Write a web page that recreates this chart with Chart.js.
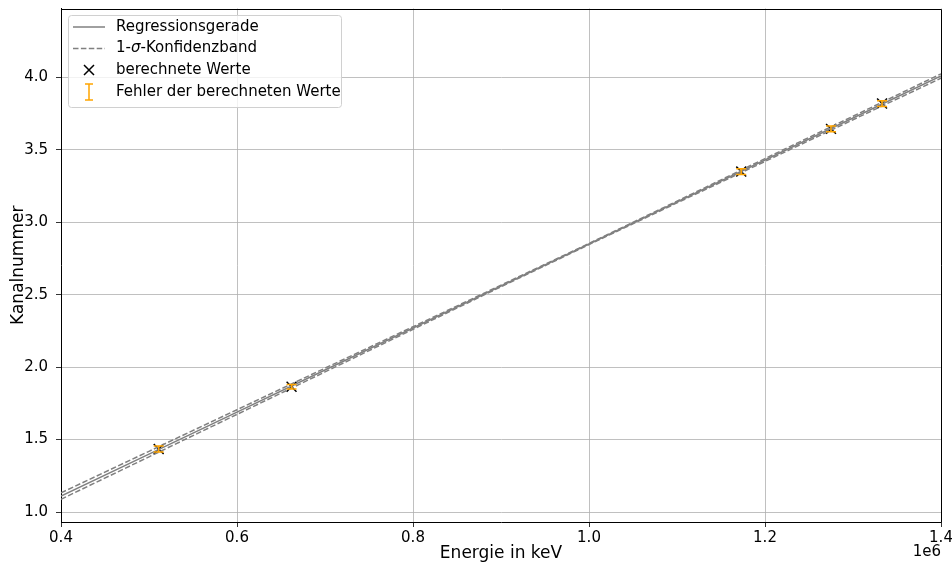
<!DOCTYPE html>
<html>
<head>
<meta charset="utf-8">
<script src="https://cdn.jsdelivr.net/npm/chart.js@4/dist/chart.umd.min.js"></script>
<style>
  html, body { margin: 0; padding: 0; background: #fff; }
  #wrap { width: 952px; height: 564px; }
</style>
</head>
<body>
<div id="wrap"><canvas id="chart" width="952" height="564"></canvas></div>
<script>
// measured points (energy, channel) and their errors
const energies = [0.511e6, 0.662e6, 1.173e6, 1.275e6, 1.333e6];
const channels = [1.435, 1.865, 3.350, 3.645, 3.820];
const channelErr = [0.02, 0.015, 0.02, 0.02, 0.02];

// regression line and 1-sigma band
const fitX = [0.4e6, 0.5e6, 0.6e6, 0.7e6, 0.8e6, 0.9e6, 1.0e6, 1.1e6, 1.2e6, 1.3e6, 1.4e6];
const fitY = [1.110, 1.400, 1.690, 1.980, 2.270, 2.560, 2.850, 3.140, 3.430, 3.720, 4.010];
const bandUpper = [1.132, 1.419, 1.706, 1.993, 2.279, 2.566, 2.854, 3.146, 3.440, 3.732, 4.025];
const bandLower = [1.088, 1.381, 1.674, 1.967, 2.261, 2.555, 2.846, 3.134, 3.420, 3.708, 3.995];

const xTicks = [0.4e6, 0.6e6, 0.8e6, 1.0e6, 1.2e6, 1.4e6];
const yTicks = [1.0, 1.5, 2.0, 2.5, 3.0, 3.5, 4.0];

const FONT = 'DejaVu Sans';
const ORANGE = '#ffa500';
const pts = (xs, ys) => xs.map((x, i) => ({ x: x, y: ys[i] }));

const errorBars = {
    id: 'errorBars',
    afterDatasetsDraw(chart) {
        const { ctx, scales: { x, y } } = chart;
        ctx.save();
        ctx.strokeStyle = ORANGE;
        ctx.lineWidth = 1.5;
        energies.forEach((e, i) => {
            const px = x.getPixelForValue(e);
            const top = y.getPixelForValue(channels[i] + channelErr[i]);
            const bot = y.getPixelForValue(channels[i] - channelErr[i]);
            ctx.beginPath();
            ctx.moveTo(px, top); ctx.lineTo(px, bot);
            ctx.moveTo(px - 5, top); ctx.lineTo(px + 5, top);
            ctx.moveTo(px - 5, bot); ctx.lineTo(px + 5, bot);
            ctx.stroke();
        });
        ctx.restore();
    }
};

const mplLegend = {
    id: 'mplLegend',
    afterDraw(chart) {
        const ctx = chart.ctx;
        const area = chart.chartArea;
        ctx.save();
        // top and right spines
        ctx.strokeStyle = '#000';
        ctx.lineWidth = 1;
        ctx.beginPath();
        ctx.moveTo(area.left, Math.round(area.top) + 0.5);
        ctx.lineTo(Math.round(area.right) + 0.5, Math.round(area.top) + 0.5);
        ctx.lineTo(Math.round(area.right) + 0.5, area.bottom);
        ctx.stroke();

        const bx = 68, by = 15, bw = 273, bh = 92;
        ctx.fillStyle = 'rgba(255,255,255,0.8)';
        ctx.strokeStyle = '#d0d0d0';
        ctx.beginPath();
        ctx.roundRect(bx + 0.5, by + 0.5, bw, bh, 3);
        ctx.fill();
        ctx.stroke();

        const rows = [27, 48.5, 70, 92];
        const normal = '15px "' + FONT + '"';
        ctx.font = normal;
        ctx.fillStyle = '#000';
        ctx.textBaseline = 'middle';
        ctx.fillText('Regressionsgerade', 116, rows[0]);
        // 1-sigma label with an italic sigma, like mathtext
        let tx = 116;
        ctx.fillText('1-', tx, rows[1]);
        tx += ctx.measureText('1-').width;
        ctx.font = 'italic ' + normal;
        ctx.fillText('\u03c3', tx, rows[1]);
        tx += ctx.measureText('\u03c3').width;
        ctx.font = normal;
        ctx.fillText('-Konfidenzband', tx, rows[1]);
        ctx.fillText('berechnete Werte', 116, rows[2]);
        ctx.fillText('Fehler der berechneten Werte', 116, rows[3]);

        ctx.strokeStyle = '#808080';
        ctx.lineWidth = 1.5;
        ctx.beginPath(); ctx.moveTo(73, rows[0]); ctx.lineTo(105, rows[0]); ctx.stroke();
        ctx.setLineDash([5.5, 2.4]);
        ctx.beginPath(); ctx.moveTo(73, rows[1]); ctx.lineTo(105, rows[1]); ctx.stroke();
        ctx.setLineDash([]);

        ctx.strokeStyle = '#000';
        ctx.beginPath();
        ctx.moveTo(84, rows[2] - 5); ctx.lineTo(94, rows[2] + 5);
        ctx.moveTo(84, rows[2] + 5); ctx.lineTo(94, rows[2] - 5);
        ctx.stroke();

        ctx.strokeStyle = ORANGE;
        ctx.beginPath();
        ctx.moveTo(89, rows[3] - 8); ctx.lineTo(89, rows[3] + 8);
        ctx.moveTo(85, rows[3] - 8); ctx.lineTo(93, rows[3] - 8);
        ctx.moveTo(85, rows[3] + 8); ctx.lineTo(93, rows[3] + 8);
        ctx.stroke();

        // offset text of the x axis
        ctx.font = normal;
        ctx.textAlign = 'right';
        ctx.fillStyle = '#000';
        ctx.fillText('1e6', 941, 552);
        ctx.restore();
    }
};

new Chart(document.getElementById('chart'), {
    type: 'scatter',
    data: {
        datasets: [
            { label: 'Regressionsgerade', type: 'line', data: pts(fitX, fitY), borderColor: '#808080', borderWidth: 1.5, pointRadius: 0, fill: false },
            { label: '1-\u03c3-Konfidenzband', type: 'line', data: pts(fitX, bandUpper), borderColor: '#808080', borderWidth: 1.5, borderDash: [5.5, 2.4], pointRadius: 0, fill: false },
            { label: 'band lower', type: 'line', data: pts(fitX, bandLower), borderColor: '#808080', borderWidth: 1.5, borderDash: [5.5, 2.4], pointRadius: 0, fill: false },
            { label: 'berechnete Werte', data: pts(energies, channels), pointStyle: 'crossRot', pointRadius: 7, borderColor: '#000', borderWidth: 1.5, backgroundColor: '#000' }
        ]
    },
    options: {
        responsive: false,
        animation: false,
        layout: { padding: { top: 8, right: 11, left: 0, bottom: 0 } },
        plugins: { legend: { display: false }, tooltip: { enabled: false } },
        scales: {
            x: {
                type: 'linear',
                min: 0.4e6, max: 1.4e6,
                afterBuildTicks: (s) => { s.ticks = xTicks.map(v => ({ value: v })); },
                afterFit: (s) => { s.height = 42; s.paddingLeft = 0; s.paddingRight = 0; },
                ticks: { color: '#000', font: { family: FONT, size: 15 }, padding: 2, maxRotation: 0, callback: (v) => (v / 1e6).toFixed(1) },
                grid: { color: '#b0b0b0', tickColor: '#000', tickLength: 5, lineWidth: 0.8 },
                border: { color: '#000', width: 1 },
                title: { display: true, text: 'Energie in keV', color: '#000', font: { family: FONT, size: 17 }, padding: { top: 0, bottom: 0 } }
            },
            y: {
                type: 'linear',
                min: 0.931, max: 4.476,
                afterBuildTicks: (s) => { s.ticks = yTicks.map(v => ({ value: v })); },
                afterFit: (s) => { s.width = 61; s.paddingTop = 0; s.paddingBottom = 0; },
                ticks: { color: '#000', font: { family: FONT, size: 15 }, padding: 8, callback: (v) => v.toFixed(1) },
                grid: { color: '#b0b0b0', tickColor: '#000', tickLength: 5, lineWidth: 0.8 },
                border: { color: '#000', width: 1 },
                title: { display: true, text: 'Kanalnummer', color: '#000', font: { family: FONT, size: 17 }, padding: { top: 8, bottom: 0 } }
            }
        }
    },
    plugins: [errorBars, mplLegend]
});
</script>
</body>
</html>
